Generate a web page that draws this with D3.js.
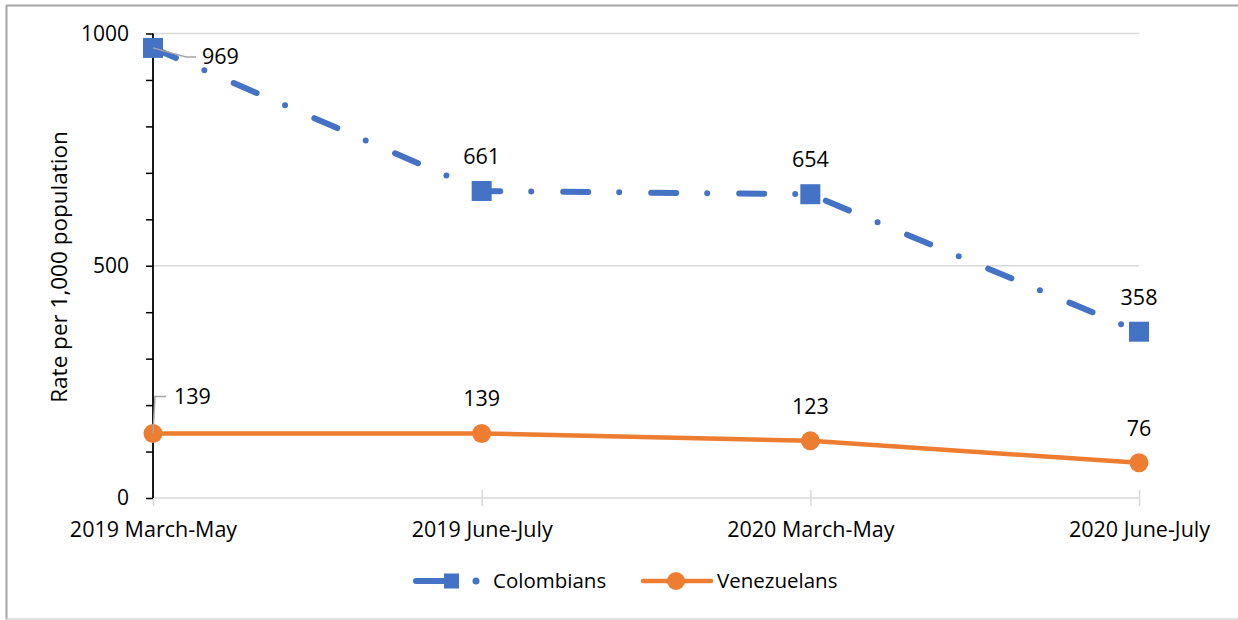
<!DOCTYPE html>
<html>
<head>
<meta charset="utf-8">
<script src="https://cdn.jsdelivr.net/npm/d3@7"></script>
<style>
  html, body { margin: 0; padding: 0; background: #fff; }
  svg { display: block; }
  text { font-family: "Open Sans", "Liberation Sans", sans-serif; fill: #000; }
</style>
</head>
<body>
<svg id="chart" width="1238" height="620"></svg>
<script>
// Rate per 1,000 population, by survey period
const categories = ["2019 March-May", "2019 June-July", "2020 March-May", "2020 June-July"];
const colombians = [969, 661, 654, 358];
const venezuelans = [139, 139, 123, 76];
const yTickValues = d3.range(0, 1001, 100);
const yLabelValues = [0, 500, 1000];
const gridValues = [500, 1000];
const seriesNames = ["Colombians", "Venezuelans"];

const BLUE = "#4472C4";
const ORANGE = "#ED7D31";
const FONT = 21;

const svg = d3.select("#chart");

// outer frame
svg.append("line").attr("x1", 6.5).attr("x2", 6.5).attr("y1", 5).attr("y2", 620)
  .attr("stroke", "#a6a6a6").attr("stroke-width", 2);
svg.append("line").attr("x1", 6).attr("x2", 1238).attr("y1", 5.5).attr("y2", 5.5)
  .attr("stroke", "#a6a6a6").attr("stroke-width", 2);
svg.append("line").attr("x1", 6).attr("x2", 1238).attr("y1", 619).attr("y2", 619)
  .attr("stroke", "#d9d9d9").attr("stroke-width", 1.5);

const x = d3.scalePoint().domain(categories).range([153, 1139]);
const y = d3.scaleLinear().domain([0, 1000]).range([498, 33.5]);

// horizontal gridlines
svg.append("g").selectAll("line").data(gridValues).join("line")
  .attr("x1", x.range()[0]).attr("x2", x.range()[1])
  .attr("y1", d => y(d)).attr("y2", d => y(d))
  .attr("stroke", "#d9d9d9").attr("stroke-width", 1.5);

// x axis (light grey, crossing ticks)
const xAxis = svg.append("g").attr("transform", `translate(0,${y(0)})`)
  .call(d3.axisBottom(x).tickSize(8).tickPadding(16));
xAxis.select(".domain").attr("stroke", "#d9d9d9").attr("stroke-width", 1.5)
  .attr("d", `M${x.range()[0]},0H${x.range()[1]}`);
xAxis.selectAll(".tick line").attr("stroke", "#d9d9d9").attr("stroke-width", 1.5)
  .attr("y1", -8).attr("y2", 8);
xAxis.selectAll(".tick text").attr("font-size", 21.5).attr("font-family", "Open Sans");

// y axis (black, minor ticks every 100)
const yAxis = svg.append("g").attr("transform", `translate(${x.range()[0]},0)`)
  .call(d3.axisLeft(y).tickValues(yTickValues).tickSize(7).tickPadding(17)
    .tickFormat(d => yLabelValues.includes(d) ? String(d) : ""));
yAxis.select(".domain").attr("stroke", "#000").attr("stroke-width", 1.8)
  .attr("d", `M0,${y(0)}V${y(1000)}`);
yAxis.selectAll(".tick line").attr("stroke", "#000").attr("stroke-width", 1.5);
yAxis.selectAll(".tick text").attr("font-size", FONT).attr("font-family", "Open Sans");

// axis title
svg.append("text")
  .attr("transform", "translate(67,267) rotate(-90)")
  .attr("text-anchor", "middle")
  .attr("font-size", 22.5)
  .text("Rate per 1,000 population");

const line = d3.line().x((d, i) => x(categories[i])).y(d => y(d));

// Colombians: long dash-dot line with square markers
svg.append("path").datum(colombians)
  .attr("d", line)
  .attr("fill", "none")
  .attr("stroke", BLUE)
  .attr("stroke-width", 6)
  .attr("stroke-linecap", "round")
  .attr("stroke-dasharray", "25 31 0 32");

svg.append("g").selectAll("rect").data(colombians).join("rect")
  .attr("x", (d, i) => x(categories[i]) - 10)
  .attr("y", d => y(d) - 10)
  .attr("width", 20).attr("height", 20)
  .attr("fill", BLUE);

// Venezuelans: solid line with circle markers
svg.append("path").datum(venezuelans)
  .attr("d", line)
  .attr("fill", "none")
  .attr("stroke", ORANGE)
  .attr("stroke-width", 4.5)
  .attr("stroke-linecap", "round");

svg.append("g").selectAll("circle").data(venezuelans).join("circle")
  .attr("cx", (d, i) => x(categories[i]))
  .attr("cy", d => y(d))
  .attr("r", 9.5)
  .attr("fill", ORANGE);

// data labels
function addLabels(values) {
  const g = svg.append("g");
  values.forEach((v, i) => {
    const px = x(categories[i]);
    const py = y(v);
    if (i === 0) return;
    g.append("text")
      .attr("x", px).attr("y", py - 27)
      .attr("text-anchor", "middle")
      .attr("font-size", 21.5)
      .text(v);
  });
}
addLabels(colombians);
addLabels(venezuelans);

// first-point labels with leader lines
{
  const px = x(categories[0]);
  const pyC = y(colombians[0]);
  svg.append("polyline")
    .attr("points", `${px},${pyC} ${px + 33},${pyC + 9} ${px + 43},${pyC + 9}`)
    .attr("fill", "none").attr("stroke", "#a6a6a6").attr("stroke-width", 1.5);
  svg.append("text")
    .attr("x", px + 49).attr("y", pyC + 16)
    .attr("font-size", 21.5)
    .text(colombians[0]);

  const pyV = y(venezuelans[0]);
  svg.append("polyline")
    .attr("points", `${px},${pyV} ${px + 2},${pyV - 37} ${px + 13},${pyV - 37}`)
    .attr("fill", "none").attr("stroke", "#a6a6a6").attr("stroke-width", 1.5);
  svg.append("text")
    .attr("x", px + 21).attr("y", pyV - 29)
    .attr("font-size", 21.5)
    .text(venezuelans[0]);
}

// legend
{
  const ly = 581;
  const lg = svg.append("g");
  lg.append("line").attr("x1", 416).attr("x2", 446).attr("y1", ly).attr("y2", ly)
    .attr("stroke", BLUE).attr("stroke-width", 6).attr("stroke-linecap", "round");
  lg.append("rect").attr("x", 444).attr("y", ly - 7.5).attr("width", 15).attr("height", 15)
    .attr("fill", BLUE);
  lg.append("circle").attr("cx", 476).attr("cy", ly).attr("r", 3.5).attr("fill", BLUE);
  lg.append("text").attr("x", 493).attr("y", ly + 7).attr("font-size", 20.5).text(seriesNames[0]);

  lg.append("line").attr("x1", 643).attr("x2", 711).attr("y1", ly).attr("y2", ly)
    .attr("stroke", ORANGE).attr("stroke-width", 4.5).attr("stroke-linecap", "round");
  lg.append("circle").attr("cx", 676).attr("cy", ly).attr("r", 9).attr("fill", ORANGE);
  lg.append("text").attr("x", 717).attr("y", ly + 7).attr("font-size", 20.5).text(seriesNames[1]);
}
</script>
</body>
</html>
